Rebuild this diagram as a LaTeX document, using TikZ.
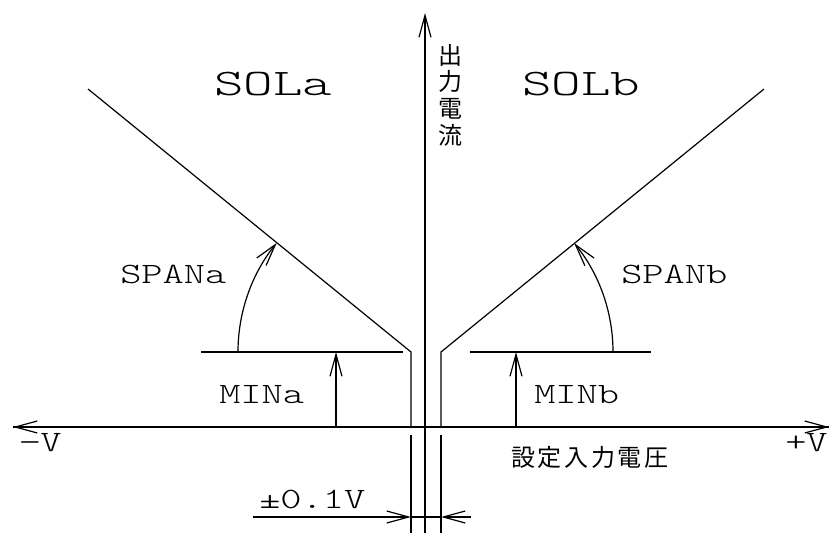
\documentclass[tikz,border=0pt]{standalone}
\usepackage{fontspec}
\usetikzlibrary{arrows.meta}
\newfontfamily\latinf{Latin Modern Mono Light}
\newfontfamily\cjkf{Noto Sans CJK JP}
\begin{document}
\begin{tikzpicture}[x=1pt,y=-1pt,
  >={Straight Barb[length=22pt,width=12pt]},
  ln/.style={line width=1.2pt,black},
  big/.style={font=\latinf\fontsize{37.5}{37.5}\selectfont,inner sep=0pt,xscale=1.5,anchor=base west},
  lbl/.style={font=\latinf\fontsize{29.5}{29.5}\selectfont,inner sep=0pt,xscale=1.37,anchor=base west},
  jp/.style={font=\cjkf\fontsize{24}{26.7}\selectfont\addfontfeature{LetterSpace=11},inner sep=0pt}]
\useasboundingbox (0,0) rectangle (831,533);
% key points
\coordinate (Ytop) at (425,13);
\coordinate (Ybot) at (425,533);
\coordinate (Xl) at (13,427);
\coordinate (Xr) at (829,427);
\coordinate (Ka) at (411,352);
\coordinate (Kb) at (441,352);
\coordinate (Sa) at (88,89);
\coordinate (Sb) at (764,89);
\coordinate (AxA) at (411,427);
\coordinate (AxB) at (441,427);
\coordinate (LoA1) at (411,435);
\coordinate (LoA2) at (411,533);
\coordinate (LoB1) at (441,435);
\coordinate (LoB2) at (441,533);
\coordinate (MinA1) at (201,352);
\coordinate (MinA2) at (403,352);
\coordinate (MinB1) at (470,352);
\coordinate (MinB2) at (651,352);
\coordinate (MaB) at (336,427);
\coordinate (MaT) at (336,352);
\coordinate (MbB) at (516,427);
\coordinate (MbT) at (516,352);
\coordinate (DimL) at (253,517);
\coordinate (DimR) at (471,517);
\coordinate (DimA) at (411,517);
\coordinate (DimB) at (441,517);
% axes
\draw[ln,->] (Ybot) -- (Ytop);
\draw[ln,->] (Xr) -- (Xl);
\draw[ln,->] (Xl) -- (Xr);
% characteristic lines
\draw[ln] (Sa) -- (Ka) -- (AxA);
\draw[ln] (Sb) -- (Kb) -- (AxB);
\draw[ln] (LoA1) -- (LoA2);
\draw[ln] (LoB1) -- (LoB2);
% MIN levels
\draw[ln] (MinA1) -- (MinA2);
\draw[ln] (MinB1) -- (MinB2);
\draw[ln,->] (MaB) -- (MaT);
\draw[ln,->] (MbB) -- (MbT);
% SPAN arcs
\draw[ln,->] (238,352) arc[start angle=180,end angle=219.1,radius=173];
\draw[ln,->] (613,352) arc[start angle=0,end angle=-39.3,radius=172];
% dimension
\draw[ln,->] (DimL) -- (DimA);
\draw[ln] (DimA) -- (DimB);
\draw[ln,->] (DimR) -- (DimB);
% texts
\node[big] (tSOLa) at (214,95) {SOLa};
\node[big] (tSOLb) at (522,95) {SOLb};
\node[lbl] (tSPANa) at (120,283) {SPANa};
\node[lbl] (tSPANb) at (621,283) {SPANb};
\node[lbl] (tMINa) at (219,403) {MINa};
\node[lbl] (tMINb) at (534,403) {MINb};
\node[lbl] (tDim) at (259,508) {±0.1V};
\node[lbl] (tMinus) at (19,451) {−V};
\node[lbl] (tPlus) at (785,451) {+V};
\node[jp,anchor=west] (tX) at (511,457) {設定入力電圧};
\node[jp,align=center] (tY) at (450,95) {出\\力\\電\\流};
\end{tikzpicture}
\end{document}
